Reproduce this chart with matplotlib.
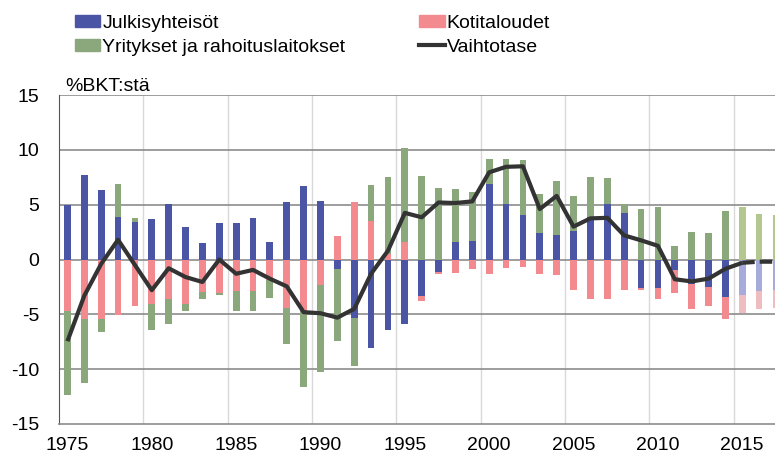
import matplotlib
matplotlib.use("Agg")
import matplotlib.pyplot as plt
import numpy as np

plt.rcParams['font.family'] = ['Liberation Sans', 'DejaVu Sans']
plt.rcParams['axes.unicode_minus'] = False

years = list(range(1975, 2018))
julkiset = [5.0, 7.7, 6.3, 3.9, 3.4, 3.7, 5.1, 3.0, 1.5, 3.3,
            3.3, 3.8, 1.6, 5.2, 6.7, 5.3, -0.9, -5.3, -8.1, -6.4,
            -5.9, -3.3, -1.1, 1.6, 1.7, 6.9, 5.1, 4.1, 2.4, 2.2,
            2.6, 3.9, 5.1, 4.2, -2.6, -2.6, -1.0, -2.2, -2.5, -3.4,
            -3.2, -2.9, -2.8]
kotitaloudet = [-4.7, -5.4, -5.4, -5.1, -4.2, -4.1, -3.6, -4.1, -3.0, -3.1,
                -2.9, -2.9, -1.9, -4.4, -4.7, -2.3, 2.1, 5.2, 3.5, 0.5,
                1.6, -0.5, -0.2, -1.2, -0.9, -1.3, -0.8, -0.7, -1.3, -1.4,
                -2.8, -3.6, -3.6, -2.8, -0.2, -1.0, -2.1, -2.3, -1.7, -2.0,
                -1.7, -1.6, -1.6]
yritykset = [-7.7, -5.9, -1.2, 3.0, 0.4, -2.3, -2.3, -0.6, -0.6, -0.1,
             -1.8, -1.8, -1.6, -3.3, -6.9, -8.0, -6.5, -4.4, 3.3, 7.0,
             8.6, 7.6, 6.5, 4.8, 4.5, 2.3, 4.1, 5.0, 3.6, 5.0,
             3.2, 3.6, 2.3, 0.9, 4.6, 4.8, 1.2, 2.5, 2.45, 4.45,
             4.76, 4.15, 4.06]
vaihtotase_years = list(range(1975, 2016))
vaihtotase = [-7.45, -3.3, -0.4, 1.8, -0.5, -2.8, -0.8, -1.6, -2.05, 0.0,
              -1.3, -0.95, -1.75, -2.45, -4.8, -4.9, -5.3, -4.5, -1.3, 0.8,
              4.25, 3.85, 5.2, 5.15, 5.3, 7.95, 8.45, 8.5, 4.6, 5.8,
              3.0, 3.75, 3.8, 2.2, 1.75, 1.25, -1.8, -2.0, -1.75, -0.85,
              -0.3]
ennuste_years = [2015, 2016, 2017]
ennuste = [-0.3, -0.2, -0.2]
first_forecast = 2015

dark = {'j': '#4a55a6', 'k': '#f28a90', 'y': '#8aa87b'}
light = {'j': '#a7abdb', 'k': '#efbcc0', 'y': '#b3c78f'}

fig = plt.figure(figsize=(7.75, 4.57), dpi=100)
ax = fig.add_axes([59 / 775, 33 / 457, 725.4 / 775, 329 / 457])

x = np.array(years)
j = np.array(julkiset)
k = np.array(kotitaloudet)
y = np.array(yritykset)
series = [('j', j), ('k', k), ('y', y)]
pos_base = np.zeros(len(x))
neg_base = np.zeros(len(x))
w = 0.4
for key, vals in series:
    base = np.where(vals >= 0, pos_base, neg_base)
    cols = [light[key] if yr >= first_forecast else dark[key] for yr in x]
    ax.bar(x, vals, w, bottom=base, color=cols, zorder=2)
    pos_base += np.where(vals >= 0, vals, 0)
    neg_base += np.where(vals < 0, vals, 0)

ax.plot(vaihtotase_years, vaihtotase, color='#333333', lw=3, zorder=4,
        solid_capstyle='butt')
ax.plot(ennuste_years, ennuste, color='#333333', lw=3, zorder=4,
        dashes=(3, 1.2))

ax.set_xlim(1974.5, 2017.5)
ax.set_ylim(-15, 15)
ax.set_yticks(range(-15, 16, 5))
ax.set_xticks(range(1975, 2016, 5))
ax.tick_params(length=0, labelsize=14)
ax.tick_params(axis='x', pad=9)
ax.tick_params(axis='y', pad=14)
for gx in np.arange(1979.5, 2017, 5):
    ax.axvline(gx, color='#d9d9d9', lw=1, zorder=0)
for gy in range(-10, 16, 5):
    ax.axhline(gy, color='#8c8c8c', lw=1.2, zorder=1)
for s in ['top', 'right']:
    ax.spines[s].set_visible(False)
ax.spines['left'].set_color('#555555')
ax.spines['bottom'].set_color('#8c8c8c')
ax.spines['bottom'].set_linewidth(1.2)

ax.text(1975 - 0.1, 15.0, '%BKT:stä', fontsize=14, va='bottom', ha='left')

handles = [
    plt.Rectangle((0, 0), 1, 1, color=dark['j']),
    plt.Rectangle((0, 0), 1, 1, color=dark['y']),
    plt.Rectangle((0, 0), 1, 1, color=dark['k']),
    plt.Line2D([], [], color='#333333', lw=3),
]
labels = ['Julkisyhteisöt', 'Yritykset ja rahoituslaitokset',
          'Kotitaloudet', 'Vaihtotase']
fig.legend(handles, labels, ncol=2, loc='upper left',
           bbox_to_anchor=(75 / 775, 1 - 15 / 457), frameon=False,
           fontsize=14, handlelength=1.3, handleheight=0.6,
           handletextpad=0.1, columnspacing=3.8, labelspacing=0.35,
           borderaxespad=0, borderpad=0)

fig.savefig('out.png', dpi=100)
